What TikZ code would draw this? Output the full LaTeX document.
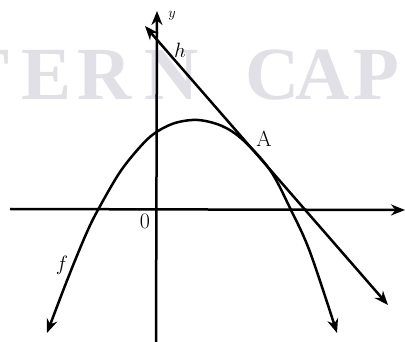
\documentclass[tikz,border=0pt]{standalone}
\usepackage{fontspec}
\newfontfamily\wmfont{Liberation Serif}
\usetikzlibrary{arrows.meta}
\definecolor{wmgray}{RGB}{224,224,230}
\begin{document}
\begin{tikzpicture}[x=1pt,y=-1pt,
  tip/.style={-{Stealth[length=14pt,width=11pt]}},
  bothtips/.style={{Stealth[length=14pt,width=11pt]}-{Stealth[length=14pt,width=11pt]}},
  ink/.style={line width=2.5pt,black},
  wm/.style={text=wmgray,font=\wmfont\bfseries\fontsize{75}{80}\selectfont,anchor=base,inner sep=0pt},
  lbl/.style={font=\fontsize{22}{26}\selectfont,inner sep=0pt}]
\useasboundingbox (0,0) rectangle (405,342);
\fill[white] (0,0) rectangle (405,342);
\begin{scope}
\clip (0,0) rectangle (405,342);
\node[wm] (wT) at (-15,100) {T};
\node[wm] (wE) at (47,100) {E};
\node[wm] (wR) at (105,100) {R};
\node[wm] (wN) at (172,100) {N};
\node[wm] (wC) at (273,100) {C};
\node[wm] (wA) at (323,100) {A};
\node[wm] (wP) at (376,100) {P};
\end{scope}
% axes
\coordinate (xs) at (10,209);
\coordinate (xe) at (405,210);
\coordinate (ys) at (156,342);
\coordinate (ye) at (157,11);
\draw[ink,tip] (xs) -- (xe);
\draw[ink,tip] (ys) -- (ye);
% parabola f
\draw[ink,bothtips] plot[smooth,tension=0.55] coordinates {(47,333) (70,273) (87,232) (99,208) (120,172) (140,147) (155,133) (175,123) (198,120) (222,126) (243,140) (270,170) (290,208) (310,252) (337,333)};
% tangent line h
\coordinate (hs) at (145,26);
\coordinate (he) at (388,305);
\draw[ink,bothtips] (hs) -- (he);
% labels
\node[lbl] (lA) at (264,139) {A};
\node[lbl] (lh) at (180,50) {$h$};
\node[lbl] (lf) at (62,265) {$f$};
\node[lbl] (l0) at (145,221) {0};
\node[font=\fontsize{14}{16}\selectfont,inner sep=0pt] (ly) at (172,16) {$y$};
\end{tikzpicture}
\end{document}
